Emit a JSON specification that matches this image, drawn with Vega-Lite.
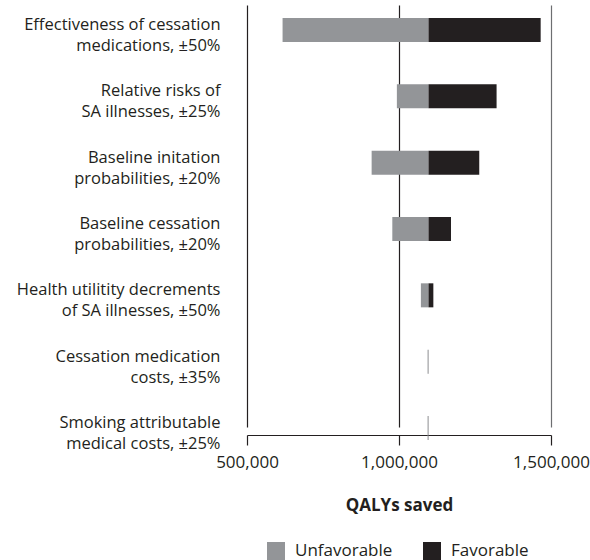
{
  "$schema": "https://vega.github.io/schema/vega-lite/v6.json",
  "width": 304,
  "height": 425,
  "autosize": "none",
  "padding": {"left": 247, "top": 10, "right": 39, "bottom": 125},
  "data": {
    "values": [
      {"parameter": "Effectiveness of cessation\nmedications, ±50%", "scenario": "Unfavorable", "value": 617000, "base": 1097000},
      {"parameter": "Effectiveness of cessation\nmedications, ±50%", "scenario": "Favorable", "value": 1466000, "base": 1097000},
      {"parameter": "Relative risks of\nSA illnesses, ±25%", "scenario": "Unfavorable", "value": 993000, "base": 1097000},
      {"parameter": "Relative risks of\nSA illnesses, ±25%", "scenario": "Favorable", "value": 1321000, "base": 1097000},
      {"parameter": "Baseline initation\nprobabilities, ±20%", "scenario": "Unfavorable", "value": 910000, "base": 1097000},
      {"parameter": "Baseline initation\nprobabilities, ±20%", "scenario": "Favorable", "value": 1264000, "base": 1097000},
      {"parameter": "Baseline cessation\nprobabilities, ±20%", "scenario": "Unfavorable", "value": 978000, "base": 1097000},
      {"parameter": "Baseline cessation\nprobabilities, ±20%", "scenario": "Favorable", "value": 1171000, "base": 1097000},
      {"parameter": "Health utilitity decrements\nof SA illnesses, ±50%", "scenario": "Unfavorable", "value": 1072000, "base": 1097000},
      {"parameter": "Health utilitity decrements\nof SA illnesses, ±50%", "scenario": "Favorable", "value": 1113000, "base": 1097000},
      {"parameter": "Cessation medication\ncosts, ±35%", "scenario": "Unfavorable", "value": 1094000, "base": 1097000},
      {"parameter": "Cessation medication\ncosts, ±35%", "scenario": "Favorable", "value": 1097300, "base": 1097000},
      {"parameter": "Smoking attributable\nmedical costs, ±25%", "scenario": "Unfavorable", "value": 1094000, "base": 1097000},
      {"parameter": "Smoking attributable\nmedical costs, ±25%", "scenario": "Favorable", "value": 1097300, "base": 1097000}
    ]
  },
  "mark": {"type": "bar"},
  "encoding": {
    "y": {
      "field": "parameter",
      "type": "nominal",
      "sort": null,
      "scale": {"range": [8, 430], "paddingInner": 0.638, "paddingOuter": 0},
      "axis": {
        "title": null,
        "domain": false,
        "ticks": false,
        "grid": false,
        "labelFontSize": 16.5,
        "labelLineHeight": 21,
        "labelPadding": 27,
        "labelOffset": -5,
        "labelLimit": 0,
        "labelColor": "#231f20",
        "labelExpr": "split(datum.label, '\\n')"
      }
    },
    "x": {
      "field": "value",
      "type": "quantitative",
      "scale": {"domain": [500000, 1500000], "nice": false},
      "axis": {
        "values": [500000, 1000000, 1500000],
        "format": ",d",
        "title": "QALYs saved",
        "titleFontWeight": "bold",
        "titleFontSize": 17,
        "titleColor": "#231f20",
        "titlePadding": 27,
        "labelFontSize": 17,
        "labelColor": "#231f20",
        "labelPadding": 9,
        "labelFlush": false,
        "tickSize": 10,
        "tickColor": "#231f20",
        "tickWidth": 1.2,
        "domainColor": "#231f20",
        "domainWidth": 1.2,
        "grid": true,
        "gridWidth": 1.2,
        "gridOpacity": 1,
        "gridColor": {"condition": {"test": "datum.value === 1500000", "value": "#6d6e71"}, "value": "#231f20"}
      }
    },
    "x2": {"field": "base"},
    "color": {
      "field": "scenario",
      "type": "nominal",
      "scale": {"domain": ["Unfavorable", "Favorable"], "range": ["#939598", "#231f20"]},
      "legend": {
        "title": null,
        "orient": "none",
        "legendX": 20,
        "legendY": 532,
        "direction": "horizontal",
        "symbolType": "square",
        "symbolSize": 324,
        "symbolStrokeWidth": 0,
        "labelFontSize": 17,
        "labelOffset": 10,
        "columnPadding": 30,
        "labelColor": "#231f20"
      }
    }
  },
  "config": {
    "view": {"stroke": null},
    "font": "Open Sans"
  }
}
